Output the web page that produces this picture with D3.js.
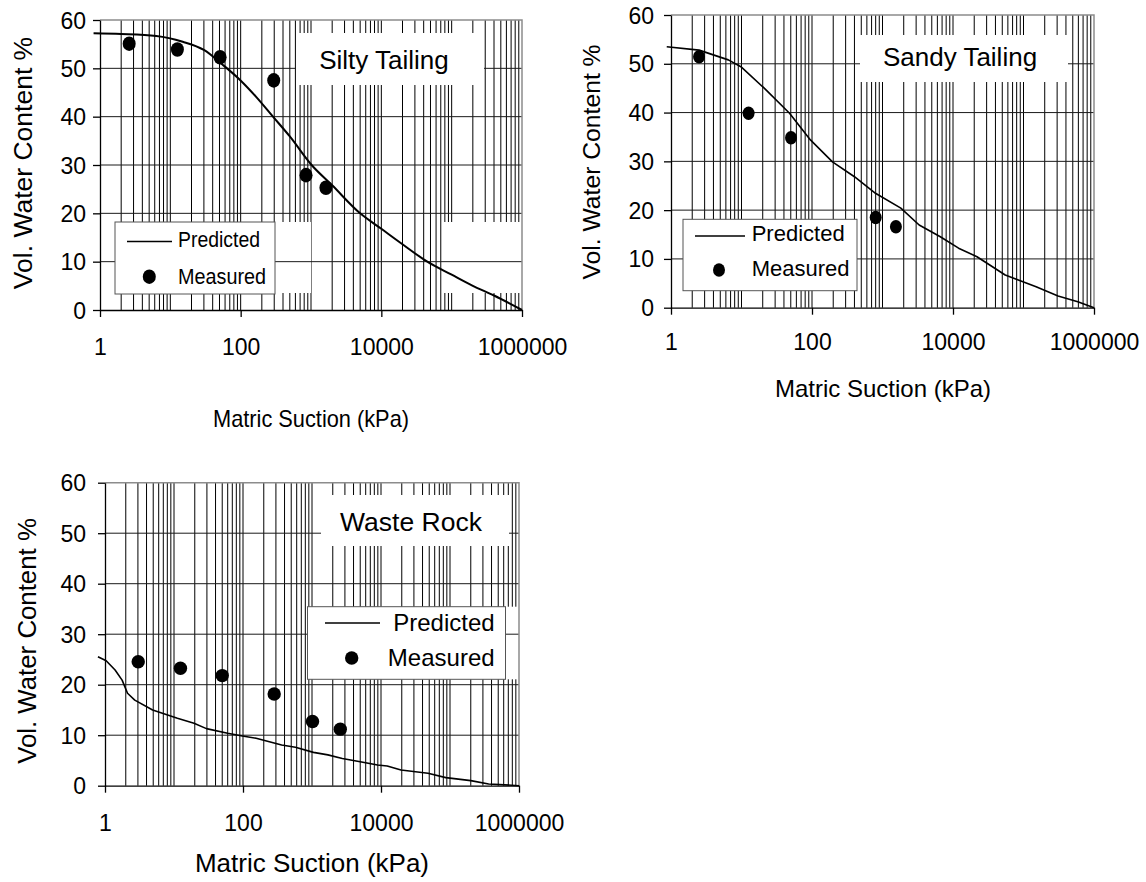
<!DOCTYPE html>
<html lang="en">
<head>
    <meta charset="UTF-8">
    <title>Soil Water Characteristic Curves</title>
    <script src="https://d3js.org/d3.v7.min.js"></script>
    <style>
        body { margin: 0; padding: 0; background: #fff; }
        svg { display: block; }
        text { font-family: "Liberation Sans", Arial, Helvetica, sans-serif; fill: #000; }
    </style>
</head>
<body>
<svg id="chart" width="1146" height="882"></svg>
<script>
    // ---- data ----
    var xTickValues = [1, 100, 10000, 1000000];
    var yTickValues = [0, 10, 20, 30, 40, 50, 60];
    var legendLabels = ["Predicted", "Measured"];
    var xTitle = "Matric Suction (kPa)";
    var yTitle = "Vol. Water Content %";

    // Silty tailing
    var siltyPredSuction = [0.81, 2, 6.3, 15, 30, 56, 98, 166, 288, 500, 1020, 2000, 5000, 10000, 20000, 45000, 100000, 200000, 400000, 1000000];
    var siltyPredWater   = [57.25, 57.1, 56.7, 55.5, 53.8, 50.7, 47.6, 44.1, 40.0, 35.9, 30.0, 25.8, 20.0, 16.8, 13.6, 10.0, 7.3, 5.0, 3.0, 0];
    var siltyMeasSuction = [2.6, 12.6, 51, 295, 850, 1630];
    var siltyMeasWater   = [55.1, 53.9, 52.3, 47.5, 27.9, 25.3];

    // Sandy tailing
    var sandyPredSuction = [0.87, 2.5, 6.5, 9.8, 21, 48, 95, 195, 400, 795, 1820, 3310, 6610, 12000, 21900, 55000, 151000, 309000, 589000, 1000000];
    var sandyPredWater   = [53.5, 52.8, 50.8, 49.4, 45.0, 39.85, 34.4, 29.9, 26.85, 23.45, 20.4, 16.95, 14.55, 12.2, 10.45, 6.7, 4.3, 2.4, 1.23, 0];
    var sandyMeasSuction = [2.5, 12.6, 50.4, 801, 1550];
    var sandyMeasWater   = [51.45, 39.85, 34.85, 18.5, 16.6];

    // Waste rock
    var wastePredSuction = [0.79, 1.04, 1.4, 1.77, 2.12, 2.7, 4.9, 11.2, 19.5, 29.5, 60, 98, 155, 363, 575, 1050, 1700, 2750, 5000, 8900, 12300, 19500, 48000, 87000, 200000, 363000, 1000000];
    var wastePredWater   = [25.55, 24.75, 22.9, 20.9, 18.3, 16.95, 15.0, 13.35, 12.35, 11.3, 10.4, 9.85, 9.4, 8.05, 7.6, 6.6, 6.1, 5.4, 4.75, 4.1, 3.9, 3.1, 2.45, 1.6, 1.0, 0.35, 0];
    var wasteMeasSuction = [3.03, 12.4, 50, 283, 1017, 2570];
    var wasteMeasWater   = [24.55, 23.25, 21.8, 18.15, 12.7, 11.2];

    var titles = ["Silty Tailing", "Sandy Tailing", "Waste Rock"];

    // ---- layout of the three panels ----
    var panels = [
        {
            title: titles[0], predS: siltyPredSuction, predW: siltyPredWater,
            measS: siltyMeasSuction, measW: siltyMeasWater,
            x0: 100, x1: 522, yt: 20, yb: 310, curve: d3.curveMonotoneX, lineW: 2,
            tickFont: 23, xPad: 37, yPad: 7,
            yTitle: {x: 23, y: 163, size: 26.5},
            xTitle: {x: 311, y: 418, size: 24, len: 196},
            titleBox: {x: 296, y: 33, w: 188, h: 52, tx: 384, ty: 60, size: 26},
            masks: [{x: 275, y: 222, w: 36, h: 71}, {x: 443, y: 222, w: 79, h: 71}],
            legend: {x: 115, y: 222, w: 160, h: 72, lx1: 127, lx2: 172, ly: 241.5, mx: 149.3, my: 276.7,
                     tx: 178, ty1: 239.5, ty2: 276.7, size: 22, len1: 82, len2: 88, anchor: "start"},
            mr: [6.5, 7.3]
        },
        {
            title: titles[1], predS: sandyPredSuction, predW: sandyPredWater,
            measS: sandyMeasSuction, measW: sandyMeasWater,
            x0: 671, x1: 1094, yt: 15, yb: 307.7, curve: d3.curveLinear, lineW: 1.6,
            tickFont: 23, xPad: 34, yPad: 10,
            yTitle: {x: 591, y: 162, size: 24.7},
            xTitle: {x: 883, y: 388, size: 24},
            titleBox: {x: 860, y: 35, w: 208, h: 47, tx: 960, ty: 57.3, size: 26, clip: 71.7},
            masks: [],
            legend: {x: 683, y: 219.3, w: 174, h: 71.4, lx1: 695, lx2: 745, ly: 236, mx: 719, my: 270,
                     tx: 751.7, ty1: 233.3, ty2: 268.3, size: 22, anchor: "start"},
            mr: [6, 6.7]
        },
        {
            title: titles[2], predS: wastePredSuction, predW: wastePredWater,
            measS: wasteMeasSuction, measW: wasteMeasWater,
            x0: 105, x1: 519, yt: 482.7, yb: 785.7, curve: d3.curveLinear, lineW: 1.6,
            tickFont: 23, xPad: 37, yPad: 12,
            yTitle: {x: 27, y: 641, size: 25.8},
            xTitle: {x: 312, y: 863, size: 26},
            titleBox: {x: 321, y: 495, w: 188, h: 51, tx: 411, ty: 521.7, size: 26.5},
            masks: [{x: 505, y: 606.7, w: 14, h: 72.6}],
            legend: {x: 307.5, y: 606.7, w: 198, h: 72.6, lx1: 325, lx2: 380, ly: 623, mx: 351.7, my: 658,
                     tx: 494.6, ty1: 622.7, ty2: 657.5, size: 24, anchor: "end"},
            mr: [6.7, 6.7]
        }
    ];

    var svg = d3.select("#chart");
    var defs = svg.append("defs");

    panels.forEach(function(p, i) {
        var g = svg.append("g");
        var x = d3.scaleLog().domain([1, 1e6]).range([p.x0, p.x1]);
        var y = d3.scaleLinear().domain([0, 60]).range([p.yb, p.yt]);

        // vertical gridlines at every log step
        g.append("g").selectAll("line")
            .data(x.ticks().filter(function(d) { return d > 1 && d < 1e6; }))
            .join("line")
            .attr("x1", function(d) { return x(d); })
            .attr("x2", function(d) { return x(d); })
            .attr("y1", p.yt).attr("y2", p.yb)
            .attr("stroke", "#000").attr("stroke-width", 1);

        // spots where the vertical grid is missing
        p.masks.forEach(function(m) {
            g.append("rect").attr("x", m.x).attr("y", m.y).attr("width", m.w).attr("height", m.h)
                .attr("fill", "#fff");
        });

        // horizontal gridlines
        g.append("g").selectAll("line")
            .data(yTickValues.filter(function(d) { return d > 0 && d < 60; }))
            .join("line")
            .attr("x1", p.x0).attr("x2", p.x1)
            .attr("y1", function(d) { return y(d); })
            .attr("y2", function(d) { return y(d); })
            .attr("stroke", "#1a1a1a").attr("stroke-width", 1);

        // top and right border
        g.append("path")
            .attr("d", "M" + p.x0 + "," + y(60) + "H" + p.x1 + "V" + y(0))
            .attr("fill", "none").attr("stroke", "#8c8c8c").attr("stroke-width", 1.5);

        // white box behind the panel title
        var tb = p.titleBox;
        g.append("rect").attr("x", tb.x).attr("y", tb.y).attr("width", tb.w).attr("height", tb.h)
            .attr("fill", "#fff");

        // axes
        var xAxis = g.append("g")
            .attr("transform", "translate(0," + p.yb + ")")
            .call(d3.axisBottom(x).tickValues(xTickValues).tickFormat(d3.format("d"))
                .tickSize(7).tickSizeOuter(0));
        xAxis.selectAll("text")
            .attr("y", p.xPad).attr("dy", null)
            .attr("dominant-baseline", "central")
            .style("font-size", p.tickFont + "px")
            .style("font-family", "Liberation Sans, Arial, sans-serif");

        var yAxis = g.append("g")
            .attr("transform", "translate(" + p.x0 + ",0)")
            .call(d3.axisLeft(y).tickValues(yTickValues).tickSize(7).tickSizeOuter(0).tickPadding(p.yPad));
        yAxis.selectAll("text")
            .attr("dy", null)
            .attr("dominant-baseline", "central")
            .style("font-size", p.tickFont + "px")
            .style("font-family", "Liberation Sans, Arial, sans-serif");

        [xAxis, yAxis].forEach(function(a) {
            a.select(".domain").attr("stroke", "#000").attr("stroke-width", 1.3);
            a.selectAll(".tick line").attr("stroke", "#000").attr("stroke-width", 1.3);
        });

        // predicted curve
        var pred = p.predS.map(function(s, k) { return [s, p.predW[k]]; });
        var line = d3.line()
            .x(function(d) { return x(d[0]); })
            .y(function(d) { return y(d[1]); })
            .curve(p.curve);
        g.append("path").datum(pred)
            .attr("d", line)
            .attr("fill", "none").attr("stroke", "#000").attr("stroke-width", p.lineW)
            .attr("stroke-linejoin", "round");

        // measured points
        var meas = p.measS.map(function(s, k) { return [s, p.measW[k]]; });
        g.append("g").selectAll("ellipse")
            .data(meas)
            .join("ellipse")
            .attr("cx", function(d) { return x(d[0]); })
            .attr("cy", function(d) { return y(d[1]); })
            .attr("rx", p.mr[0]).attr("ry", p.mr[1])
            .attr("fill", "#000");

        // legend
        var L = p.legend;
        g.append("rect").attr("x", L.x).attr("y", L.y).attr("width", L.w).attr("height", L.h)
            .attr("fill", "#fff").attr("stroke", "#555").attr("stroke-width", 1);
        g.append("line").attr("x1", L.lx1).attr("x2", L.lx2).attr("y1", L.ly).attr("y2", L.ly)
            .attr("stroke", "#000").attr("stroke-width", 1.6);
        g.append("ellipse").attr("cx", L.mx).attr("cy", L.my).attr("rx", p.mr[0]).attr("ry", p.mr[1])
            .attr("fill", "#000");
        var t1 = g.append("text").attr("x", L.tx).attr("y", L.ty1)
            .attr("text-anchor", L.anchor).attr("dominant-baseline", "central")
            .style("font-size", L.size + "px").text(legendLabels[0]);
        var t2 = g.append("text").attr("x", L.tx).attr("y", L.ty2)
            .attr("text-anchor", L.anchor).attr("dominant-baseline", "central")
            .style("font-size", L.size + "px").text(legendLabels[1]);
        if (L.len1) {
            t1.attr("textLength", L.len1).attr("lengthAdjust", "spacingAndGlyphs");
            t2.attr("textLength", L.len2).attr("lengthAdjust", "spacingAndGlyphs");
        }

        // panel title
        var title = g.append("text").attr("x", tb.tx).attr("y", tb.ty)
            .attr("text-anchor", "middle").attr("dominant-baseline", "central")
            .style("font-size", tb.size + "px").text(p.title);
        if (tb.clip) {
            defs.append("clipPath").attr("id", "titleClip" + i)
                .append("rect").attr("x", tb.x).attr("y", tb.y).attr("width", tb.w).attr("height", tb.clip - tb.y);
            title.attr("clip-path", "url(#titleClip" + i + ")");
        }

        // axis titles
        var xt = g.append("text").attr("x", p.xTitle.x).attr("y", p.xTitle.y)
            .attr("text-anchor", "middle").attr("dominant-baseline", "central")
            .style("font-size", p.xTitle.size + "px").text(xTitle);
        if (p.xTitle.len) {
            xt.attr("textLength", p.xTitle.len).attr("lengthAdjust", "spacingAndGlyphs")
              .attr("x", p.xTitle.x - p.xTitle.len / 2).attr("text-anchor", "start");
        }

        g.append("text")
            .attr("transform", "translate(" + p.yTitle.x + "," + p.yTitle.y + ") rotate(-90)")
            .attr("text-anchor", "middle").attr("dominant-baseline", "central")
            .style("font-size", p.yTitle.size + "px").text(yTitle);
    });
</script>
</body>
</html>
